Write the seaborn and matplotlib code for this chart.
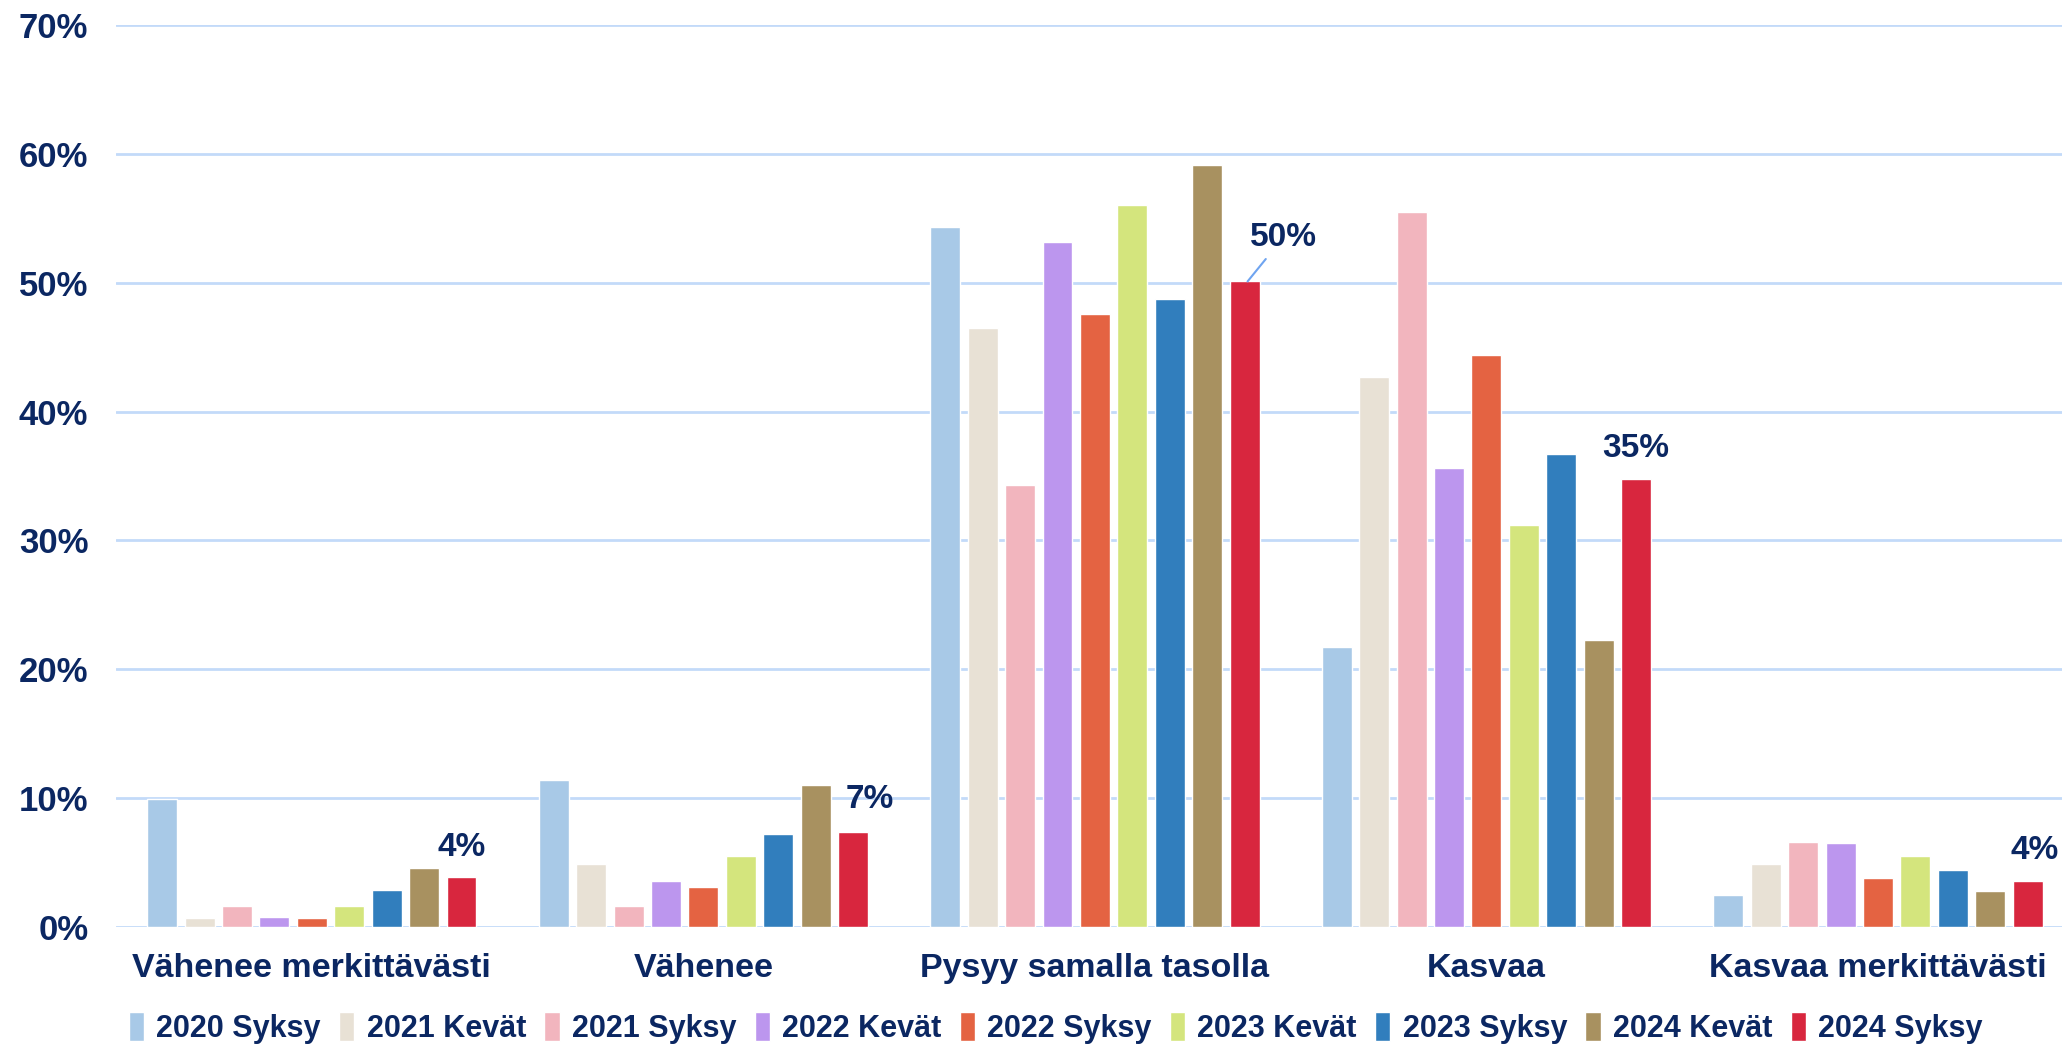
import pandas as pd
import matplotlib.pyplot as plt
import seaborn as sns
from matplotlib.ticker import PercentFormatter

# Tiedot luettu kuvasta (osuudet vastaajista)
kategoriat = ['Vähenee merkittävästi', 'Vähenee', 'Pysyy samalla tasolla',
              'Kasvaa', 'Kasvaa merkittävästi']
kaudet = ['2020 Syksy', '2021 Kevät', '2021 Syksy', '2022 Kevät', '2022 Syksy',
          '2023 Kevät', '2023 Syksy', '2024 Kevät', '2024 Syksy']

s2020_syksy = [0.099, 0.114, 0.543, 0.217, 0.025]
k2021_kevat = [0.007, 0.049, 0.465, 0.427, 0.049]
s2021_syksy = [0.016, 0.016, 0.343, 0.555, 0.066]
k2022_kevat = [0.008, 0.036, 0.532, 0.356, 0.065]
s2022_syksy = [0.007, 0.031, 0.476, 0.444, 0.038]
k2023_kevat = [0.016, 0.055, 0.560, 0.312, 0.055]
s2023_syksy = [0.029, 0.072, 0.487, 0.367, 0.044]
k2024_kevat = [0.046, 0.110, 0.591, 0.223, 0.028]
s2024_syksy = [0.039, 0.074, 0.501, 0.348, 0.036]

sarjat = [s2020_syksy, k2021_kevat, s2021_syksy, k2022_kevat, s2022_syksy,
          k2023_kevat, s2023_syksy, k2024_kevat, s2024_syksy]

varit = ['#A8C9E7', '#E8E1D5', '#F2B5BE', '#BC96EE', '#E46342',
         '#D4E57D', '#317EBD', '#A89160', '#D8263E']

navy = '#0B2762'

rows = []
for kausi, arvot in zip(kaudet, sarjat):
    for kat, v in zip(kategoriat, arvot):
        rows.append({'kategoria': kat, 'kausi': kausi, 'osuus': v})
df = pd.DataFrame(rows)

sns.set_style('white')
plt.rcParams['font.family'] = ['Liberation Sans', 'DejaVu Sans']

fig = plt.figure(figsize=(20.62, 10.47), dpi=100)
ax = fig.add_axes([0.0563, 0.1146, 0.9437, 0.8615])

sns.barplot(data=df, x='kategoria', y='osuus', hue='kausi', order=kategoriat,
            hue_order=kaudet, palette=varit, width=0.86, gap=0.2,
            saturation=1, ax=ax, legend=True)

ax.set_ylim(0, 0.70)
ax.set_xlim(-0.5, 4.47)
ax.yaxis.set_major_formatter(PercentFormatter(1.0, decimals=0))
ax.set_yticks([i / 10 for i in range(8)])
ax.yaxis.grid(True, color='#C3DAF9', linewidth=2)
ax.set_axisbelow(True)
for s in ax.spines.values():
    s.set_visible(False)
ax.set_xlabel('')
ax.set_ylabel('')
ax.tick_params(axis='y', length=0, pad=20, labelsize=25, labelcolor=navy)
ax.tick_params(axis='x', length=0, pad=19, labelsize=24.5, labelcolor=navy)
for t in ax.get_yticklabels() + ax.get_xticklabels():
    t.set_fontweight('bold')

# Arvolaput viimeisimmälle kaudelle
viimeiset = ax.containers[-1]
siirrot = [(0, 21), (12, 23), (26, 32), (0, 22), (5, 22)]
for bar, (dx, dy) in zip(viimeiset, siirrot):
    x = bar.get_x() + bar.get_width() / 2
    h = bar.get_height()
    if dy == 32:
        ax.annotate(f'{h:.0%}', xy=(x + bar.get_width() * 0.1, h), xytext=(dx, dy),
                    textcoords='offset points', ha='center', va='center',
                    fontsize=24, fontweight='bold', color=navy,
                    arrowprops=dict(arrowstyle='-', color='#6FA4F0', lw=1.5,
                                    shrinkA=3, shrinkB=0))
    else:
        ax.annotate(f'{h:.0%}', xy=(x, h), xytext=(dx, dy),
                    textcoords='offset points', ha='center', va='center',
                    fontsize=24, fontweight='bold', color=navy)

handles, labels = ax.get_legend_handles_labels()
ax.get_legend().remove()
leg = fig.legend(handles, labels, loc='center', bbox_to_anchor=(0.512, 0.018),
                 ncol=9, frameon=False, fontsize=22, handlelength=0.5,
                 handleheight=1.1, handletextpad=0.4, columnspacing=0.6)
for t in leg.get_texts():
    t.set_color(navy)
    t.set_fontweight('bold')

plt.savefig('out.png', dpi=100)
